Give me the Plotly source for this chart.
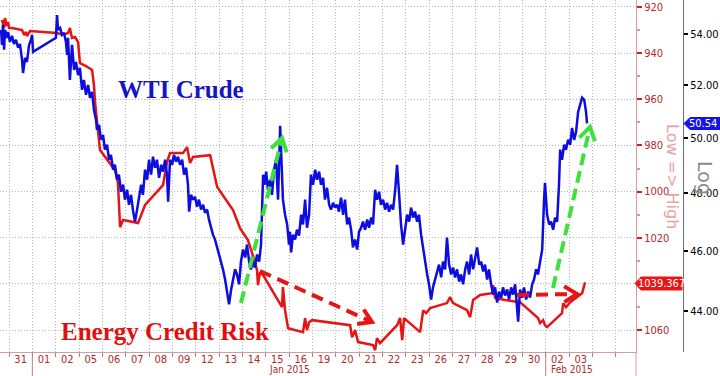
import math
import plotly.graph_objects as go

W, H = 720, 376
PH = 352            # plot-area height in px (bottom margin 24)
XDOM = 636 / W      # right edge of the price panel

# ---------------- data ----------------
# x = trading-day position (Dec 31 2014 occupies [0,1], Jan 01 [1,2], Jan 02 [2,3] ...)
day_labels = ["30", "31", "01", "02", "05", "06", "07", "08", "09", "12", "13", "14", "15",
              "16", "19", "20", "21", "22", "23", "26", "27", "28", "29", "30", "02", "03"]
day_label_pos = [d + 0.5 for d in range(-1, 25)]

month_labels = ["Jan 2015", "Feb 2015"]
month_label_pos = [12.04, 24.13]
month_breaks = [1, 23]

wti_day = [-0.34, -0.30, -0.26, -0.21, -0.17, -0.09, -0.04, 0.04, 0.13, 0.21, 0.30, 0.39, 0.47,
           0.56, 0.60, 0.69, 0.77, 0.86, 0.94, 0.99, 1.03, 2.01, 2.06, 2.10, 2.19, 2.27, 2.36,
           2.44, 2.49, 2.53, 2.61, 2.70, 2.79, 2.87, 2.96, 3.04, 3.13, 3.21, 3.30, 3.39, 3.47,
           3.56, 3.64, 3.73, 3.77, 3.86, 3.94, 4.03, 4.11, 4.20, 4.29, 4.37, 4.46, 4.54, 4.63,
           4.71, 4.80, 4.89, 4.97, 5.06, 5.14, 5.23, 5.32, 5.40, 5.49, 5.57, 5.66, 5.74, 5.83,
           5.92, 6.00, 6.09, 6.17, 6.26, 6.34, 6.43, 6.52, 6.60, 6.69, 6.77, 6.82, 6.90, 6.99,
           7.07, 7.16, 7.24, 7.33, 7.42, 7.50, 7.59, 7.67, 7.72, 7.80, 7.89, 7.97, 8.06, 8.14,
           8.23, 8.32, 8.40, 8.49, 8.57, 8.66, 8.74, 8.83, 8.92, 9.00, 9.09, 9.17, 9.26, 9.34,
           9.43, 9.52, 9.60, 9.69, 9.77, 9.86, 9.94, 10.03, 10.12, 10.20, 10.29, 10.37, 10.46,
           10.54, 10.63, 10.72, 10.80, 10.89, 10.97, 11.02, 11.10, 11.19, 11.27, 11.36, 11.44,
           11.53, 11.62, 11.66, 11.74, 11.83, 11.92, 12.00, 12.04, 12.09, 12.17, 12.26, 12.34,
           12.43, 12.52, 12.60, 12.69, 12.77, 12.86, 12.94, 13.03, 13.12, 13.20, 13.29, 13.37,
           13.46, 13.54, 13.63, 13.72, 13.80, 13.89, 13.97, 14.06, 14.14, 14.23, 14.32, 14.40,
           14.49, 14.57, 14.66, 14.74, 14.83, 14.92, 15.00, 15.09, 15.17, 15.26, 15.35, 15.43,
           15.52, 15.60, 15.69, 15.77, 15.86, 15.94, 16.03, 16.12, 16.20, 16.29, 16.37, 16.46,
           16.55, 16.63, 16.72, 16.80, 16.89, 16.97, 17.06, 17.15, 17.23, 17.32, 17.40, 17.49,
           17.57, 17.66, 17.75, 17.83, 17.92, 18.00, 18.09, 18.17, 18.26, 18.35, 18.43, 18.52,
           18.60, 18.69, 18.77, 18.86, 18.95, 19.03, 19.12, 19.20, 19.29, 19.37, 19.46, 19.55,
           19.63, 19.72, 19.80, 19.89, 19.97, 20.06, 20.15, 20.23, 20.32, 20.40, 20.49, 20.57,
           20.66, 20.75, 20.83, 20.92, 21.00, 21.09, 21.17, 21.26, 21.35, 21.43, 21.52, 21.60,
           21.69, 21.77, 21.82, 21.90, 21.99, 22.07, 22.16, 22.25, 22.33, 22.42, 22.50, 22.59,
           22.67, 22.76, 22.85, 22.93, 22.97, 23.06, 23.15, 23.23, 23.32, 23.40, 23.49, 23.57,
           23.62, 23.70, 23.79, 23.87, 23.96, 24.05, 24.13, 24.22, 24.30, 24.39, 24.47, 24.56,
           24.65, 24.73, 24.77]
wti_price = [54.16, 53.56, 54.36, 53.37, 54.16, 53.84, 54.08, 53.68, 53.92, 53.60, 53.76, 53.45,
             53.60, 52.97, 52.46, 53.05, 52.89, 53.56, 53.76, 53.96, 53.29, 53.84, 54.76, 54.16,
             54.24, 53.96, 54.04, 53.68, 53.17, 53.84, 52.19, 53.56, 52.58, 52.89, 52.38, 52.66,
             51.81, 52.19, 51.62, 52.00, 51.51, 51.73, 51.05, 50.67, 50.30, 50.48, 49.93, 50.11,
             49.57, 49.75, 49.20, 49.38, 48.84, 49.02, 48.48, 48.66, 48.05, 48.30, 47.77, 48.12,
             47.59, 47.94, 47.35, 47.00, 47.42, 47.77, 48.30, 47.94, 48.84, 48.48, 49.20, 48.66,
             49.31, 48.91, 49.20, 48.55, 49.02, 48.77, 49.20, 48.66, 47.70, 49.20, 49.02, 49.38,
             49.13, 49.31, 49.02, 49.20, 48.66, 48.91, 48.30, 47.35, 47.94, 47.77, 47.87, 47.52,
             47.77, 47.42, 47.59, 47.31, 47.42, 47.07, 46.79, 46.55, 46.38, 46.11, 45.87, 45.63,
             45.37, 45.03, 44.63, 44.21, 44.70, 45.03, 45.37, 45.20, 44.87, 45.63, 46.04, 45.77,
             46.21, 45.63, 45.37, 45.63, 45.43, 45.87, 45.63, 46.21, 48.66, 48.30, 48.77, 48.12,
             48.48, 47.94, 48.84, 49.20, 47.77, 50.45, 49.57, 47.77, 47.24, 46.90, 46.21, 46.65,
             45.94, 46.55, 46.38, 46.72, 46.52, 47.24, 46.90, 47.77, 46.79, 47.24, 48.66, 48.30,
             48.84, 48.48, 48.77, 48.30, 48.55, 47.77, 48.19, 47.59, 47.42, 47.66, 47.49, 47.59,
             47.35, 47.84, 47.24, 47.77, 46.90, 47.14, 46.72, 46.11, 46.38, 46.04, 46.65, 46.79,
             47.00, 46.72, 47.07, 46.79, 47.14, 46.90, 48.12, 47.77, 48.05, 47.59, 47.77, 47.42,
             47.66, 47.35, 47.59, 47.42, 48.12, 49.02, 47.94, 46.90, 46.21, 46.72, 47.24, 47.00,
             47.49, 47.14, 47.35, 47.00, 47.24, 46.55, 46.04, 45.63, 45.20, 44.87, 44.37, 44.77,
             45.03, 45.20, 45.53, 45.10, 45.63, 45.37, 46.45, 45.53, 45.20, 45.43, 45.10, 45.37,
             44.96, 45.20, 44.87, 45.37, 45.63, 45.20, 45.87, 45.37, 45.70, 46.11, 45.53, 45.63,
             45.30, 45.53, 45.03, 45.37, 44.87, 44.53, 44.77, 44.27, 44.63, 44.43, 44.77, 44.50,
             44.70, 44.37, 44.77, 44.53, 44.87, 44.05, 43.65, 44.70, 44.43, 44.77, 44.37, 44.63,
             44.43, 44.87, 45.03, 45.37, 45.20, 45.63, 46.04, 47.77, 48.37, 47.24, 46.90, 47.00,
             46.72, 47.14, 47.00, 48.30, 49.57, 49.20, 49.75, 49.57, 49.93, 49.75, 50.37, 49.93,
             50.22, 50.97, 51.24, 51.51, 51.43, 50.97, 50.54]

credit_day = [-0.30, -0.21, -0.17, -0.09, -0.04, 0.00, 0.13, 0.56, 0.64, 0.73, 0.77, 0.90, 2.06,
              2.19, 2.40, 2.53, 2.61, 2.70, 2.83, 2.96, 3.04, 3.30, 3.56, 3.64, 3.69, 3.81, 3.90,
              4.54, 4.67, 4.76, 4.89, 5.53, 5.83, 6.60, 6.77, 6.90, 7.46, 7.63, 7.76, 7.89, 8.62,
              8.92, 9.60, 9.90, 10.24, 10.54, 10.63, 10.67, 10.76, 10.89, 11.70, 11.74, 11.83,
              11.96, 12.60, 12.69, 12.77, 12.86, 12.99, 14.62, 14.70, 14.83, 14.96, 15.60, 15.69,
              15.77, 15.90, 16.63, 16.76, 16.85, 16.93, 17.62, 17.75, 17.87, 18.05, 18.77, 18.90,
              19.03, 19.63, 19.76, 19.89, 20.19, 20.70, 20.75, 20.83, 21.26, 21.90, 22.67, 22.76,
              22.89, 22.97, 23.06, 23.70, 23.75, 23.87, 24.05, 24.56, 24.69]
credit_value = [925.6, 929.1, 924.8, 928.2, 926.5, 929.1, 929.1, 930.0, 932.1, 930.8, 932.6, 930.4,
                931.3, 931.7, 931.7, 931.3, 929.1, 933.4, 933.0, 935.2, 944.3, 945.6, 947.3, 953.8,
                961.6, 973.3, 982.0, 990.7, 996.3, 1015.4, 1012.3, 1013.6, 1005.8, 997.2, 987.2,
                983.3, 983.3, 980.7, 987.6, 985.0, 984.2, 998.0, 1008.0, 1015.8, 1021.0, 1030.5,
                1034.0, 1040.5, 1034.9, 1036.2, 1050.1, 1041.4, 1051.4, 1059.2, 1060.9, 1054.8,
                1060.0, 1056.6, 1055.7, 1057.9, 1063.1, 1060.0, 1065.2, 1066.5, 1068.7, 1063.5,
                1065.7, 1057.9, 1054.8, 1064.4, 1054.8, 1060.9, 1051.4, 1052.7, 1050.5, 1048.3,
                1045.7, 1048.3, 1051.4, 1054.4, 1047.0, 1044.8, 1044.0, 1040.5, 1046.1, 1047.0,
                1047.9, 1054.8, 1057.0, 1055.7, 1057.9, 1058.7, 1052.7, 1048.3, 1050.1, 1047.9,
                1044.0, 1039.367]

credit_ticks = [920, 940, 960, 980, 1000, 1020, 1040, 1060]
credit_ticktext = ["920", "940", "960", "980", "1000", "1020", "", "1060"]  # 1040 sits under the last-value badge
wti_ticks = [44, 46, 48, 50, 52, 54]

# ---------------- styling ----------------
BLUE = "#0d0de0"
RED = "#e51515"
GREEN = "#3ee03e"
AXRED = "#b02a2a"
GRID = "#b4b4b4"
NARROW = "Liberation Sans Narrow, DejaVu Sans Condensed, Liberation Sans, Arial"
SERIF = "Liberation Serif, Times New Roman, serif"


def px(x, y):
    return x / W, 1 - y / PH


def arrow(x0, y0, x1, y1, color, width, head, ang, dash):
    dx, dy = x1 - x0, y1 - y0
    L = math.hypot(dx, dy)
    ux, uy = dx / L, dy / L
    a = math.radians(ang)
    out = []
    sx0, sy0 = px(x0, y0)
    sx1, sy1 = px(x1 - ux * 3, y1 - uy * 3)
    out.append(dict(type="line", xref="paper", yref="paper", x0=sx0, y0=sy0, x1=sx1, y1=sy1,
                    line=dict(color=color, width=width, dash=dash)))
    pts = []
    for s in (1, -1):
        c, sn = math.cos(s * a), math.sin(s * a)
        rx = -(ux * c - uy * sn)
        ry = -(ux * sn + uy * c)
        pts.append(px(x1 + head * rx, y1 + head * ry))
    tx, ty = px(x1, y1)
    path = f"M {pts[0][0]},{pts[0][1]} L {tx},{ty} L {pts[1][0]},{pts[1][1]}"
    out.append(dict(type="path", xref="paper", yref="paper", path=path,
                    line=dict(color=color, width=width)))
    return out


def badge(x0, x1, yc, hh, tip, color):
    pts = [(x0, yc), (x0 + tip, yc - hh), (x1, yc - hh), (x1, yc + hh), (x0 + tip, yc + hh)]
    p = [px(a, b) for a, b in pts]
    path = "M " + " L ".join(f"{a},{b}" for a, b in p) + " Z"
    return dict(type="path", xref="paper", yref="paper", path=path,
                fillcolor=color, line=dict(color=color, width=1))


fig = go.Figure()

fig.add_trace(go.Scatter(x=credit_day, y=credit_value, mode="lines",
                         line=dict(color=RED, width=2.5), yaxis="y", name="Energy Credit Risk"))
fig.add_trace(go.Scatter(x=wti_day, y=wti_price, mode="lines",
                         line=dict(color=BLUE, width=2.5), yaxis="y2", name="WTI Crude"))

shapes = []
shapes += arrow(241, 303, 282, 138, GREEN, 4, 15, 32, "12px,6px")
shapes += arrow(553, 288, 590, 127, GREEN, 4, 15, 32, "12px,6px")
shapes += arrow(260, 271, 372, 322, RED, 4, 15, 32, "12px,7px")
shapes += arrow(517, 295, 577, 294, RED, 4, 15, 32, "12px,7px")

for b in month_breaks:
    shapes.append(dict(type="line", xref="x", yref="paper", x0=b, x1=b, y0=0, y1=-24 / PH,
                       line=dict(color="#c47a7a", width=1)))
shapes.append(dict(type="line", xref="paper", yref="paper", x0=XDOM, x1=XDOM, y0=0,
                   y1=-24 / PH, line=dict(color="#d89a9a", width=1)))

shapes.append(badge(684, 720, 123.5, 6, 6, "#1414e8"))
shapes.append(badge(635, 682, 283.5, 6.5, 6, "#e81616"))

annotations = [
    dict(text="<b>WTI Crude</b>", x=181 / W, y=1 - 89 / PH, xref="paper", yref="paper",
         showarrow=False, font=dict(family=SERIF, size=25, color="#1414c8"),
         xanchor="center", yanchor="middle"),
    dict(text="<b>Energy Credit Risk</b>", x=165 / W, y=1 - 331 / PH, xref="paper",
         yref="paper", showarrow=False, font=dict(family=SERIF, size=25, color="#e01010"),
         xanchor="center", yanchor="middle"),
    dict(text="Low => High", x=673 / W, y=1 - 176 / PH, xref="paper", yref="paper",
         showarrow=False, textangle=90, font=dict(family="DejaVu Sans", size=16, color="#e6a3a3"),
         xanchor="center", yanchor="middle"),
    dict(text="Log", x=705 / W, y=1 - 178 / PH, xref="paper", yref="paper",
         showarrow=False, textangle=90, font=dict(family="DejaVu Sans", size=19, color="#8c8c8c"),
         xanchor="center", yanchor="middle"),
    dict(text="50.54", x=703 / W, y=1 - 123.5 / PH, xref="paper", yref="paper",
         showarrow=False, font=dict(family=NARROW, size=11, color="white"),
         xanchor="center", yanchor="middle"),
    dict(text="1039.367", x=661 / W, y=1 - 283.5 / PH, xref="paper", yref="paper",
         showarrow=False, font=dict(family=NARROW, size=11, color="white"),
         xanchor="center", yanchor="middle"),
]
for lab, pos in zip(month_labels, month_label_pos):
    annotations.append(dict(text=lab, x=pos, y=1 - 369 / PH, xref="x", yref="paper",
                            showarrow=False, font=dict(family=NARROW, size=10, color=AXRED),
                            xanchor="center", yanchor="middle", borderpad=0))

fig.update_layout(
    width=W, height=H,
    margin=dict(l=0, r=0, t=0, b=H - PH),
    paper_bgcolor="white", plot_bgcolor="white",
    template="none",
    showlegend=False,
    xaxis=dict(
        domain=[0, XDOM], range=[-0.386, 26.87], anchor="y",
        tickmode="array", tickvals=day_label_pos, ticktext=day_labels,
        ticks="", showgrid=False, zeroline=False,
        showline=True, linecolor="#c9a3a3", linewidth=1,
        tickfont=dict(family=NARROW, size=11, color=AXRED),
        ticklabelstandoff=-3,
        minor=dict(tick0=0, dtick=1, showgrid=True, gridcolor=GRID, griddash="1px,2px",
                   gridwidth=1, ticks="outside", ticklen=4, tickcolor="#c47a7a"),
        automargin=False,
    ),
    yaxis=dict(
        range=[1069.5, 916.97], anchor="x", side="right",
        tickmode="array", tickvals=credit_ticks, ticktext=credit_ticktext,
        ticks="outside", ticklen=5, tickwidth=2, tickcolor="#d02020",
        tickfont=dict(family=NARROW, size=11, color=AXRED),
        showline=True, linecolor="#d89a9a", linewidth=1,
        showgrid=True, gridcolor=GRID, griddash="1px,2px", gridwidth=1, zeroline=False,
        minor=dict(dtick=10, tick0=930, ticks="outside", ticklen=3, tickcolor="#d89a9a",
                   showgrid=False),
        automargin=False,
    ),
    yaxis2=dict(
        type="log", range=[math.log10(42.68), math.log10(55.37)],
        overlaying="y", anchor="free", position=683 / W, side="right",
        tickmode="array", tickvals=wti_ticks, ticktext=[f"{v:.2f}" for v in wti_ticks],
        ticks="outside", ticklen=4, tickwidth=2, tickcolor="black",
        tickfont=dict(family=NARROW, size=11, color="black"),
        showline=True, linecolor="#6e6e6e", linewidth=1,
        showgrid=False, zeroline=False, automargin=False,
    ),
    shapes=shapes,
    annotations=annotations,
)

fig.write_html("out.html", config={"displayModeBar": False},
               post_script="document.body.style.margin='0px';document.body.style.overflow='hidden';")
